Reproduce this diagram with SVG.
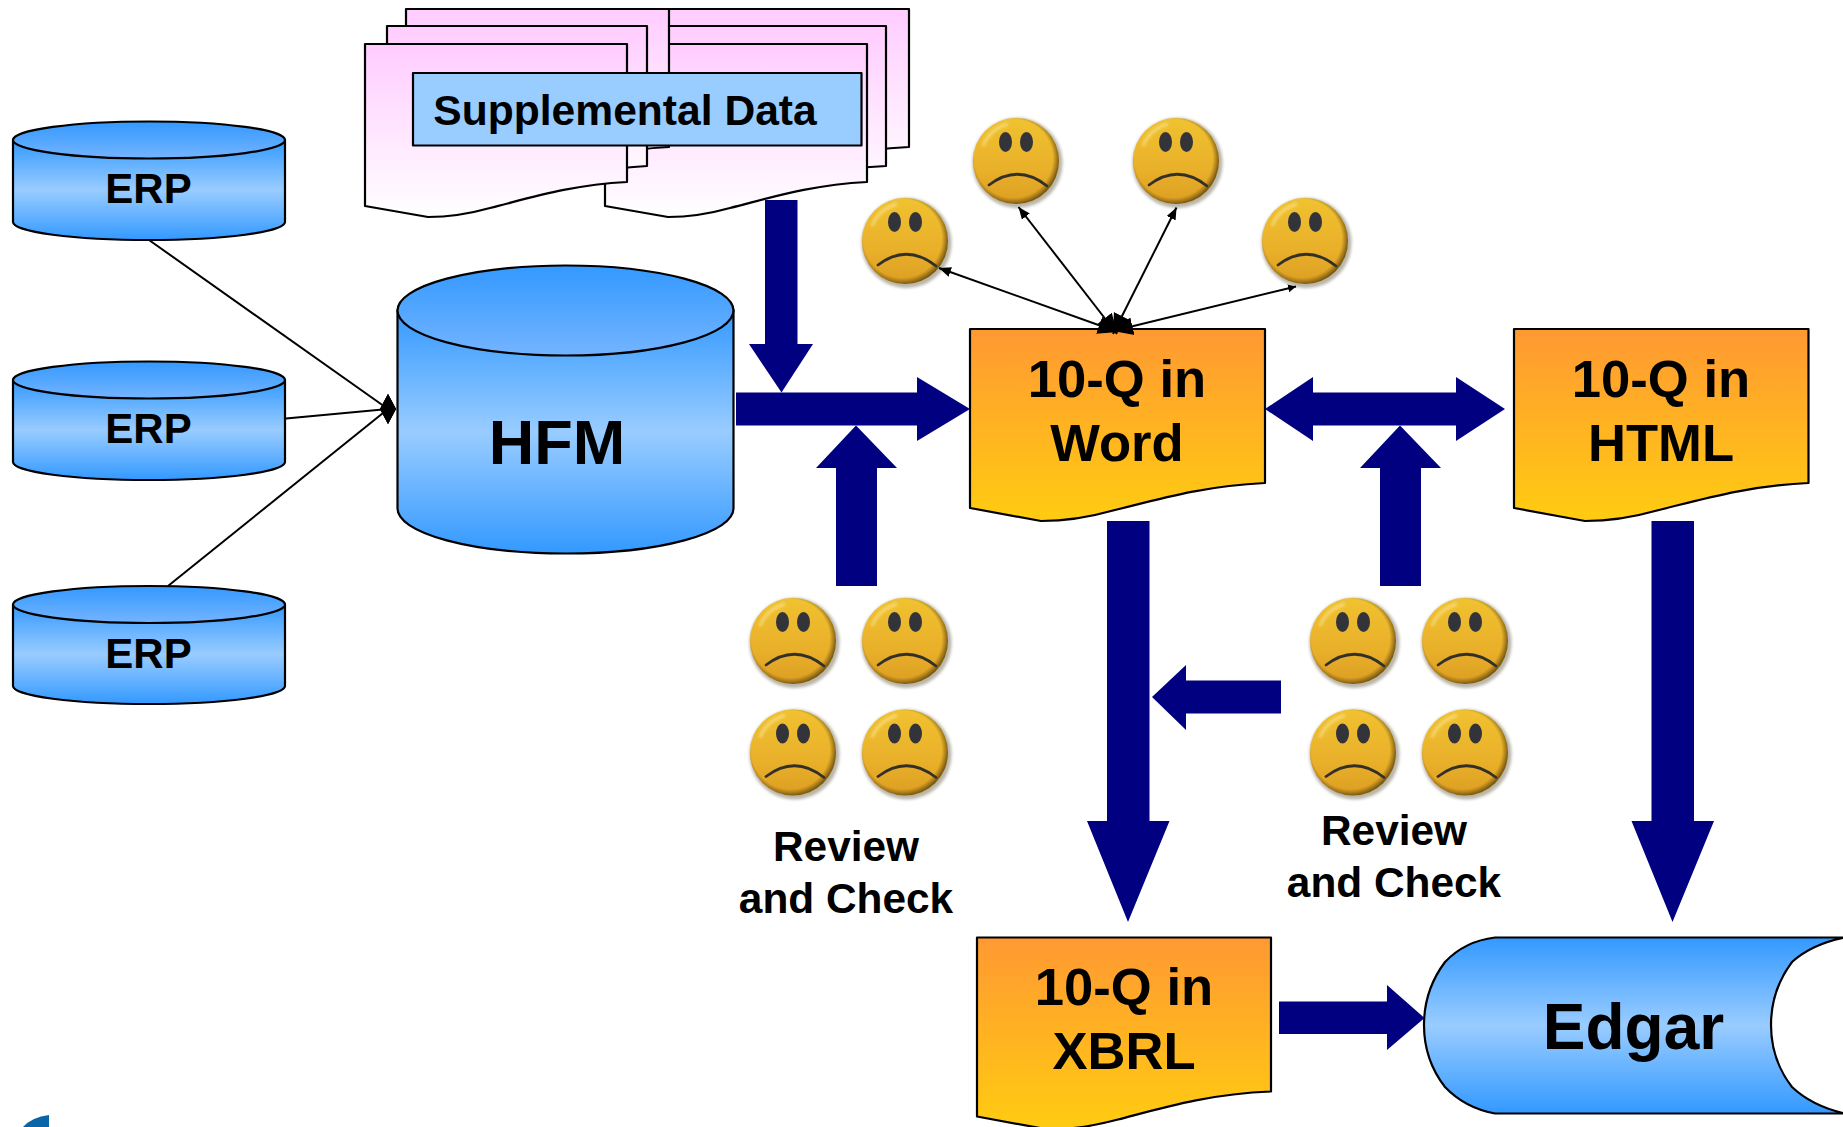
<svg xmlns="http://www.w3.org/2000/svg" xmlns:xlink="http://www.w3.org/1999/xlink" width="1843" height="1127" viewBox="0 0 1843 1127">
<style>
text{font-family:"Liberation Sans",Arial,sans-serif;font-weight:700;fill:#000;text-anchor:middle}
.o{stroke:#000;stroke-width:2.2;stroke-linejoin:round}
.cyl{fill:url(#blue)}
.lid{fill:url(#lid)}
.doc{fill:url(#pink)}
.orange{fill:url(#orange)}
.blk{fill:#000080}
.thin{stroke:#000;stroke-width:2;fill:none}
.erp{font-size:42px}
.q{font-size:52.6px}
.rv{font-size:42.4px}
</style>
<defs>
<linearGradient id="blue" x1="0" y1="0" x2="0" y2="1"><stop offset="0" stop-color="#3399ff"/><stop offset=".5" stop-color="#99ccff"/><stop offset="1" stop-color="#3399ff"/></linearGradient>
<linearGradient id="lid" x1="0" y1="0" x2="0" y2="1"><stop offset="0" stop-color="#3399ff"/><stop offset="1" stop-color="#74b4ff"/></linearGradient>
<linearGradient id="pink" x1="0" y1="0" x2="0" y2="1"><stop offset="0" stop-color="#ffccff"/><stop offset="1" stop-color="#ffffff"/></linearGradient>
<linearGradient id="orange" x1="0" y1="0" x2="0" y2="1"><stop offset="0" stop-color="#ff9933"/><stop offset="1" stop-color="#ffcc11"/></linearGradient>
<linearGradient id="faceFill" x1="0" y1="0" x2="0" y2="1"><stop offset="0" stop-color="#f0c230"/><stop offset=".6" stop-color="#e9b02a"/><stop offset="1" stop-color="#dc9e22"/></linearGradient>
<radialGradient id="faceEdge" cx=".47" cy=".47" r=".53"><stop offset=".86" stop-color="#7a5a10" stop-opacity="0"/><stop offset="1" stop-color="#6a4c10" stop-opacity=".85"/></radialGradient>
<filter id="soft" x="-20%" y="-20%" width="140%" height="140%"><feGaussianBlur stdDeviation="1.4"/></filter>
<marker id="head" viewBox="0 0 12 10" refX="12" refY="5" markerWidth="12" markerHeight="10" markerUnits="userSpaceOnUse" orient="auto-start-reverse"><path d="M0,0L12,5L0,10Z" fill="#000"/></marker>
<marker id="apex" viewBox="0 0 20 20" refX="20" refY="10" markerWidth="20" markerHeight="20" markerUnits="userSpaceOnUse" orient="auto-start-reverse"><path d="M0,1L20,10L0,19Z" fill="#000"/></marker>
<marker id="small" viewBox="0 0 8 8" refX="8" refY="4" markerWidth="8" markerHeight="8" markerUnits="userSpaceOnUse" orient="auto-start-reverse"><path d="M0,0L8,4L0,8Z" fill="#000"/></marker>
<marker id="dia" viewBox="0 0 16 30" refX="8" refY="15" markerWidth="16" markerHeight="30" markerUnits="userSpaceOnUse" orient="0"><path d="M8,0L16,15L8,30L0,15Z" fill="#000"/></marker>
<g id="sad">
<circle cx="1.500" cy="2" r="45" fill="#8a8470" opacity=".6" filter="url(#soft)"/>
<circle r="43" fill="url(#faceFill)"/>
<circle r="43" fill="url(#faceEdge)"/>
<path d="M-33,-15A36,36 0 0 1 -8,-37" fill="none" stroke="#fff2b0" stroke-width="3" opacity=".55" filter="url(#soft)"/>
<ellipse cx="-10.500" cy="-19" rx="6.500" ry="10" fill="#33333a"/>
<ellipse cx="10.500" cy="-19" rx="6.500" ry="10" fill="#33333a"/>
<path d="M-27,24Q2,2 31,25" fill="none" stroke="#33302a" stroke-width="2.8" stroke-linecap="round"/>
</g>
</defs>
<rect width="1843" height="1127" fill="#fff"/>
<g id="docs">
<path class="o doc" d="M646,9H909V147C845,150 800,163 755,174C727,182 704,184 685,184L646,172Z"/>
<path class="o doc" d="M627,26H886V166C825,169 780,181 736,192C708,200 685,202 666,202L627,190Z"/>
<path class="o doc" d="M605,44H867V182C810,185 770,198 730,208C705,215 685,217 668,217L605,206Z"/>
<path class="o doc" d="M406,9H669V147C610,150 570,163 530,173L406,172Z"/>
<path class="o doc" d="M387,26H647V166C590,169 550,181 510,191L387,190Z"/>
<path class="o doc" d="M365,44H627V182C570,185 530,198 490,208C465,215 445,217 428,217L365,206Z"/>
</g>
<g id="supplemental">
<rect class="o" x="413" y="73" width="448.500" height="72.500" fill="#99ccff"/>
<text x="625" y="125" font-size="42.600px">Supplemental Data</text>
</g>
<g id="erp1">
<path class="o cyl" d="M13,140V222A136,18 0 0 0 285,222V140Z"/>
<ellipse class="o lid" cx="149" cy="140" rx="136" ry="18.500"/>
<text class="erp" x="148.500" y="203">ERP</text>
</g>
<g id="erp2">
<path class="o cyl" d="M13,380V462A136,18 0 0 0 285,462V380Z"/>
<ellipse class="o lid" cx="149" cy="380" rx="136" ry="18.500"/>
<text class="erp" x="148.500" y="443">ERP</text>
</g>
<g id="erp3">
<path class="o cyl" d="M13,604.500V686A136,18 0 0 0 285,686V604.500Z"/>
<ellipse class="o lid" cx="149" cy="604.500" rx="136" ry="18.500"/>
<text class="erp" x="148.500" y="668">ERP</text>
</g>
<g id="hfm">
<path class="o cyl" d="M397.500,310V508.500A168,45 0 0 0 733.500,508.500V310Z"/>
<ellipse class="o lid" cx="565.500" cy="310.500" rx="168" ry="45"/>
<text x="557" y="464" font-size="63px">HFM</text>
</g>
<g id="word">
<path class="o orange" d="M970,329H1265V483C1201,486 1156,500 1111,511C1083,519 1060,521 1041,521L970,508Z"/>
<text class="q" x="1117" y="396.500">10-Q in</text>
<text class="q" x="1117" y="460.500">Word</text>
</g>
<g id="html">
<path class="o orange" d="M1514,329H1808.500V483C1745,486 1700,500 1655,511C1627,519 1604,521 1585,521L1514,508Z"/>
<text class="q" x="1661" y="396.500">10-Q in</text>
<text class="q" x="1661" y="460.500">HTML</text>
</g>
<g id="xbrl">
<path class="o orange" d="M977,937.500H1271V1091.500C1207,1094 1162,1108 1118,1119.500C1090,1127 1067,1129.500 1048,1129.500L977,1116.500Z"/>
<text class="q" x="1124" y="1005">10-Q in</text>
<text class="q" x="1124" y="1068.500">XBRL</text>
</g>
<g id="edgar">
<path class="o" fill="url(#blue)" d="M1845,937.500H1495Q1465,941 1445,962Q1424,990 1424,1025Q1424,1060 1445,1087Q1465,1108 1495,1113.500H1845Q1812,1106 1792,1087Q1771,1060 1771,1025Q1771,990 1792,962Q1812,944 1845,937.500Z"/>
<text x="1633.500" y="1048.500" font-size="64px">Edgar</text>
</g>
<g id="faces">
<use id="face-top-1" href="#sad" x="905" y="241"/>
<use id="face-top-2" href="#sad" x="1016" y="161"/>
<use id="face-top-3" href="#sad" x="1176" y="161"/>
<use id="face-top-4" href="#sad" x="1305" y="241"/>
<use id="face-l1" href="#sad" x="793" y="641"/>
<use id="face-l2" href="#sad" x="905" y="641"/>
<use id="face-l3" href="#sad" x="793" y="752.500"/>
<use id="face-l4" href="#sad" x="905" y="752.500"/>
<use id="face-r1" href="#sad" x="1353" y="641"/>
<use id="face-r2" href="#sad" x="1465" y="641"/>
<use id="face-r3" href="#sad" x="1353" y="752.500"/>
<use id="face-r4" href="#sad" x="1465" y="752.500"/>
</g>
<g id="review-left"><text class="rv" x="846" y="860.500">Review</text><text class="rv" x="846" y="912.500">and Check</text></g>
<g id="review-right"><text class="rv" x="1394" y="845">Review</text><text class="rv" x="1394" y="897">and Check</text></g>
<g id="logo"><path d="M23,1127Q32,1117 49,1115V1127Z" fill="#0a64a8"/></g>
<g id="connectors">
<line class="thin" x1="149" y1="240" x2="388" y2="409" marker-end="url(#dia)"/>
<line class="thin" x1="286" y1="418.500" x2="388" y2="409" marker-end="url(#dia)"/>
<line class="thin" x1="168" y1="586" x2="388" y2="409" marker-end="url(#dia)"/>
<line class="thin" x1="1118" y1="332" x2="939" y2="268" marker-start="url(#apex)" marker-end="url(#head)"/>
<line class="thin" x1="1117" y1="334" x2="1018.500" y2="207" marker-start="url(#apex)" marker-end="url(#head)"/>
<line class="thin" x1="1113" y1="334" x2="1176.500" y2="207.500" marker-start="url(#apex)" marker-end="url(#head)"/>
<line class="thin" x1="1113" y1="331" x2="1296" y2="286.500" marker-start="url(#apex)" marker-end="url(#small)"/>
<polygon class="blk" points="765,200 797.500,200 797.500,344 813,344 781.500,392.500 749,344 765,344"/>
<polygon class="blk" points="736,392.500 917,392.500 917,377 970,409 917,441 917,425.500 736,425.500"/>
<polygon class="blk" points="836,586 877,586 877,468 897,468 856,425.500 816,468 836,468"/>
<polygon class="blk" points="1265,409 1313,377 1313,392.500 1456,392.500 1456,377 1505,409 1456,441 1456,425.500 1313,425.500 1313,441"/>
<polygon class="blk" points="1380,586 1421,586 1421,468 1441,468 1400,425.500 1360,468 1380,468"/>
<polygon class="blk" points="1107,521 1149.500,521 1149.500,821 1169.500,821 1128,922 1087,821 1107,821"/>
<polygon class="blk" points="1651.500,521 1694,521 1694,821 1714,821 1672.500,922 1631.500,821 1651.500,821"/>
<polygon class="blk" points="1281,680.500 1186,680.500 1186,665 1152,697 1186,730 1186,713.500 1281,713.500"/>
<polygon class="blk" points="1279,1001.500 1387,1001.500 1387,985 1424.500,1018 1387,1050 1387,1034 1279,1034"/>
</g>
</svg>
